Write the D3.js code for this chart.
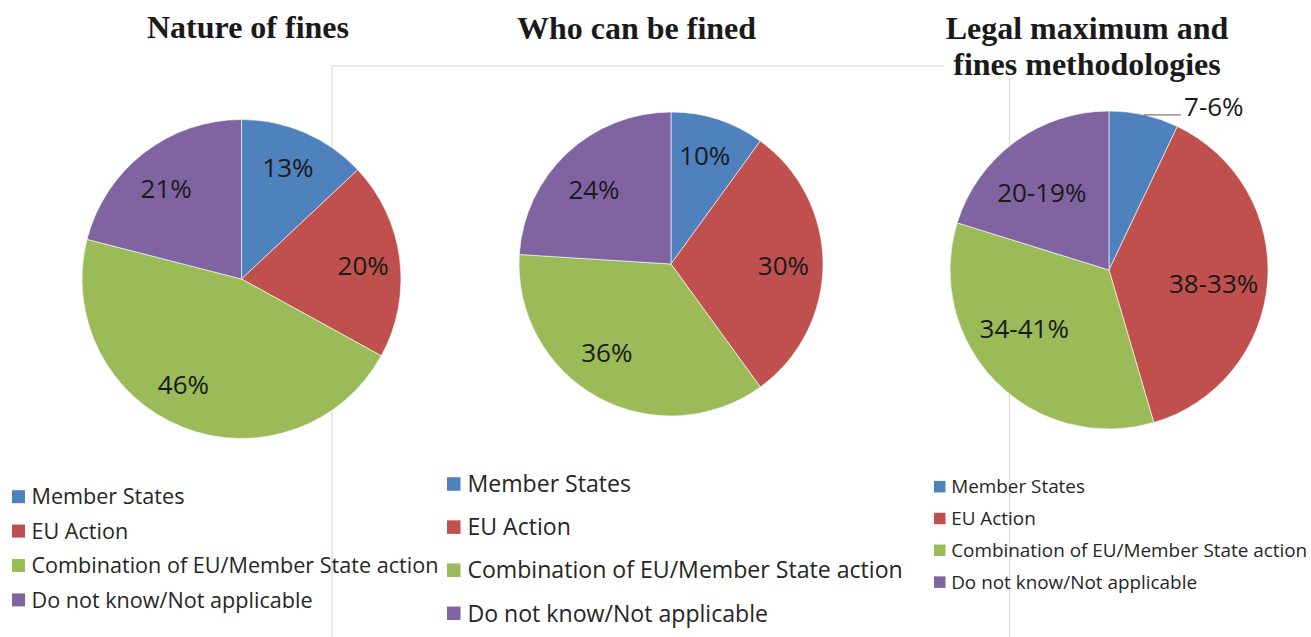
<!DOCTYPE html>
<html>
<head>
<meta charset="utf-8">
<script src="https://cdn.jsdelivr.net/npm/d3@7"></script>
<style>
  html, body { margin: 0; padding: 0; background: #ffffff; }
  svg { display: block; }
</style>
</head>
<body>
<svg id="chart" width="1311" height="637"></svg>
<script>
// ---------- DATA ----------
const categories = ["Member States", "EU Action", "Combination of EU/Member State action", "Do not know/Not applicable"];
const colors = ["#4F81BD", "#C0504D", "#9BBB59", "#8064A2"];

const titleNature = ["Nature of fines"];
const titleWho = ["Who can be fined"];
const titleLegal = ["Legal maximum and", "fines methodologies"];

const natureValues = [13, 20, 46, 21];
const natureLabels = ["13%", "20%", "46%", "21%"];

const whoValues = [10, 30, 36, 24];
const whoLabels = ["10%", "30%", "36%", "24%"];

const legalValues = [7, 38, 34, 20];
const legalLabels = ["7-6%", "38-33%", "34-41%", "20-19%"];

// ---------- LAYOUT ----------
const charts = [
  { values: natureValues, labels: natureLabels, title: titleNature,
    cx: 241.5, cy: 279, r: 159.5, labelFrac: 0.75,
    nudges: [[-1, -2], [3, 2], [-14, -6], [-2, 4]], outside: [],
    titleX: 248, titleY: 38, titleBg: false,
    legend: { x: 12, y0: 496.7, step: 34.4, sq: 13, fs: 21.6 } },
  { values: whoValues, labels: whoLabels, title: titleWho,
    cx: 671, cy: 264, r: 152, labelFrac: 0.74,
    nudges: [[-1, -1], [0, 2], [-10, -10], [0, 8]], outside: [],
    titleX: 636.5, titleY: 39, titleBg: false,
    legend: { x: 447, y0: 484, step: 43.1, sq: 13.5, fs: 23.1 } },
  { values: legalValues, labels: legalLabels, title: titleLegal,
    cx: 1109, cy: 270, r: 159, labelFrac: 0.66,
    nudges: [[0, 0], [0, 5], [-10, -15], [-5, 7]], outside: [0],
    titleX: 1087, titleY: 39, titleBg: true,
    legend: { x: 934, y0: 486.7, step: 31.8, sq: 11.5, fs: 18.9 } }
];

const svg = d3.select("#chart");

// background frame (light grey rectangle behind the middle panel)
svg.append("rect")
  .attr("x", 332).attr("y", 66)
  .attr("width", 1009.5 - 332).attr("height", 640)
  .attr("fill", "none")
  .attr("stroke", "#d9d9d9")
  .attr("stroke-width", 1.2);

const pie = d3.pie().sort(null).value(d => d);

charts.forEach(c => {
  const g = svg.append("g").attr("transform", `translate(${c.cx},${c.cy})`);
  const arcs = pie(c.values);
  const arc = d3.arc().innerRadius(0).outerRadius(c.r);
  const labelArc = d3.arc().innerRadius(c.r * c.labelFrac).outerRadius(c.r * c.labelFrac);

  g.selectAll("path.slice")
    .data(arcs)
    .enter().append("path")
    .attr("class", "slice")
    .attr("d", arc)
    .attr("fill", (d, i) => colors[i])
    .attr("stroke", "#ffffff")
    .attr("stroke-width", 0.6);

  const fs = 26;
  arcs.forEach((d, i) => {
    if (c.outside.includes(i)) {
      const a = (d.startAngle + d.endAngle) / 2;
      const px = c.r * Math.sin(a), py = -c.r * Math.cos(a);
      g.append("line")
        .attr("x1", px).attr("y1", py)
        .attr("x2", px + 37).attr("y2", py)
        .attr("stroke", "#595959").attr("stroke-width", 1);
      g.append("text")
        .attr("x", px + 40).attr("y", py + 1)
        .attr("font-family", "'Open Sans', sans-serif")
        .attr("font-size", fs)
        .attr("fill", "#1a1a1a")
        .text(c.labels[i]);
    } else {
      const [lx, ly] = labelArc.centroid(d);
      const nd = c.nudges[i];
      g.append("text")
        .attr("x", lx + nd[0]).attr("y", ly + nd[1] + fs * 0.357)
        .attr("text-anchor", "middle")
        .attr("font-family", "'Open Sans', sans-serif")
        .attr("font-size", fs)
        .attr("fill", "#1a1a1a")
        .text(c.labels[i]);
    }
  });

  // title
  if (c.titleBg) {
    svg.append("rect")
      .attr("x", 944).attr("y", 8).attr("width", 288).attr("height", 70)
      .attr("fill", "#ffffff");
  }
  const t = svg.append("text")
    .attr("text-anchor", "middle")
    .attr("font-family", "'Liberation Serif', 'Times New Roman', serif")
    .attr("font-weight", "bold")
    .attr("font-size", 32)
    .attr("fill", "#1a1a1a");
  c.title.forEach((line, k) => {
    t.append("tspan").attr("x", c.titleX).attr("y", c.titleY + k * 36).text(line);
  });

  // legend
  const L = c.legend;
  const lg = svg.append("g");
  categories.forEach((cat, i) => {
    const my = L.y0 + i * L.step;
    lg.append("rect")
      .attr("x", L.x).attr("y", my - L.sq / 2)
      .attr("width", L.sq).attr("height", L.sq)
      .attr("fill", colors[i]);
    lg.append("text")
      .attr("x", L.x + L.sq + L.fs * 0.3)
      .attr("y", my + L.fs * 0.357)
      .attr("font-family", "'Open Sans', sans-serif")
      .attr("font-size", L.fs)
      .attr("fill", "#262626")
      .text(cat);
  });
});
</script>
</body>
</html>
